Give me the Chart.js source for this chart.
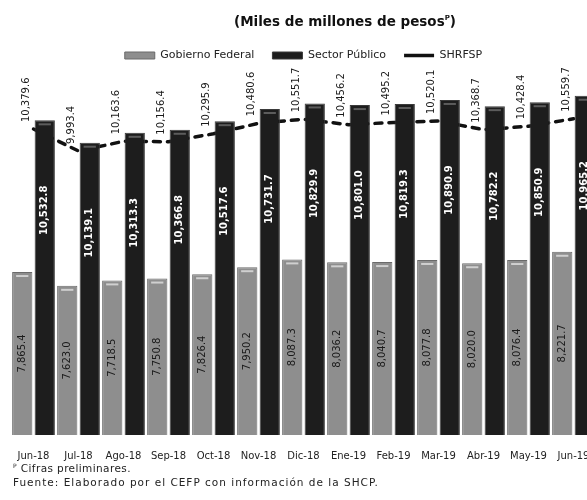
<!DOCTYPE html>
<html>
<head>
<meta charset="utf-8">
<script src="https://cdn.jsdelivr.net/npm/chart.js@4"></script>
<style>
html,body{margin:0;padding:0;background:#fff;overflow:hidden;width:587px;height:500px;}
#wrap{position:relative;width:607px;height:500px;}
#title{position:absolute;top:13px;left:145px;width:400px;text-align:center;font:bold 13.5px "DejaVu Sans";line-height:16px;color:#111;}
#title sup{font-size:7px;vertical-align:6px;line-height:0;}
#cv{position:absolute;left:0;top:0;}
.note{position:absolute;left:13px;font:10.5px "DejaVu Sans";line-height:12px;color:#222;white-space:nowrap;}
.note sup{font-size:6px;vertical-align:4px;line-height:0;}
</style>
</head>
<body>
<div id="wrap">
  <canvas id="cv" width="607" height="477"></canvas>
  <div id="title">(Miles de millones de pesos<sup>P</sup>)</div>
  <div class="note" style="top:462px;letter-spacing:0.4px;"><sup>P</sup> Cifras preliminares.</div>
  <div class="note" style="top:476px;letter-spacing:1px;">Fuente: Elaborado por el CEFP con información de la SHCP.</div>
</div>
<script>
const categories = ["Jun-18","Jul-18","Ago-18","Sep-18","Oct-18","Nov-18","Dic-18","Ene-19","Feb-19","Mar-19","Abr-19","May-19","Jun-19"];
const gobiernoFederal = [7865.4,7623.0,7718.5,7750.8,7826.4,7950.2,8087.3,8036.2,8040.7,8077.8,8020.0,8076.4,8221.7];
const sectorPublico = [10532.8,10139.1,10313.3,10366.8,10517.6,10731.7,10829.9,10801.0,10819.3,10890.9,10782.2,10850.9,10965.2];
const shrfsp = [10379.6,9993.4,10163.6,10156.4,10295.9,10480.6,10551.7,10456.2,10495.2,10520.1,10368.7,10428.4,10559.7];
const seriesNames = ["Gobierno Federal","Sector Público","SHRFSP"];

Chart.defaults.font.family = '"DejaVu Sans", sans-serif';
Chart.defaults.color = '#222';

const fmt = v => v.toLocaleString('en-US',{minimumFractionDigits:1,maximumFractionDigits:1});

const labelPlugin = {
  id: 'valueLabels',
  afterDatasetsDraw(chart) {
    const ctx = chart.ctx;
    const bottom = chart.chartArea.bottom;
    [0,1].forEach(di => {
      const meta = chart.getDatasetMeta(di);
      meta.data.forEach(el => {
        const w = el.width;
        ctx.save();
        ctx.strokeStyle = di === 0 ? 'rgba(215,215,215,0.9)' : 'rgba(100,100,100,0.9)';
        ctx.lineWidth = 2;
        ctx.beginPath();
        ctx.moveTo(el.x - w/2 + 4, el.y + 4);
        ctx.lineTo(el.x + w/2 - 4, el.y + 4);
        ctx.stroke();
        ctx.restore();
      });
    });
    chart.data.datasets.forEach((ds, di) => {
      const meta = chart.getDatasetMeta(di);
      meta.data.forEach((el, i) => {
        const txt = fmt(ds.data[i]);
        ctx.save();
        ctx.textBaseline = 'middle';
        if (di === 0) {
          ctx.translate(el.x, (el.y + Math.min(el.base, bottom)) / 2);
          ctx.rotate(-Math.PI/2);
          ctx.textAlign = 'center';
          ctx.fillStyle = '#1a1a1a';
          ctx.font = '10px "DejaVu Sans"';
        } else if (di === 1) {
          ctx.translate(el.x, el.y + 90);
          ctx.rotate(-Math.PI/2);
          ctx.textAlign = 'center';
          ctx.fillStyle = '#ffffff';
          ctx.font = 'bold 10px "DejaVu Sans"';
        } else {
          ctx.translate(el.x - 7, el.y - 7);
          ctx.rotate(-Math.PI/2);
          ctx.textAlign = 'left';
          ctx.fillStyle = '#1a1a1a';
          ctx.font = '10px "DejaVu Sans"';
        }
        ctx.fillText(txt, 0, 0);
        ctx.restore();
      });
    });
  }
};

new Chart(document.getElementById('cv'), {
  data: {
    labels: categories,
    datasets: [
      {
        type: 'bar', label: seriesNames[0], data: gobiernoFederal,
        backgroundColor: '#8e8e8e', borderColor: '#6a6a6a', borderWidth: 1,
        pointStyle: 'rect'
      },
      {
        type: 'bar', label: seriesNames[1], data: sectorPublico,
        backgroundColor: '#1d1d1d', borderColor: '#3a3a3a', borderWidth: 1,
        pointStyle: 'rect'
      },
      {
        type: 'line', label: seriesNames[2], data: shrfsp,
        borderColor: '#111', backgroundColor: '#111', borderWidth: 3.5,
        borderDash: [7, 7], borderCapStyle: 'round', pointRadius: 0, pointStyle: 'line',
        tension: 0, fill: false
      }
    ]
  },
  options: {
    responsive: false,
    animation: false,
    layout: { padding: { top: 32, left: 11, right: 11, bottom: 0 } },
    datasets: { bar: { categoryPercentage: 1.0, barPercentage: 0.9 } },
    scales: {
      x: {
        grid: { display: false, drawTicks: false }, border: { display: false },
        ticks: { padding: 15, autoSkip: false, maxRotation: 0, font: { size: 10 }, color: '#222' }
      },
      y: { display: false, min: 5000, max: 11400 }
    },
    plugins: {
      legend: {
        position: 'top',
        labels: {
          usePointStyle: true, pointStyleWidth: 30, boxHeight: 7, padding: 18,
          font: { size: 11 }, color: '#222'
        }
      },
      title: { display: false },
      tooltip: { enabled: false }
    }
  },
  plugins: [labelPlugin]
});
</script>
</body>
</html>
